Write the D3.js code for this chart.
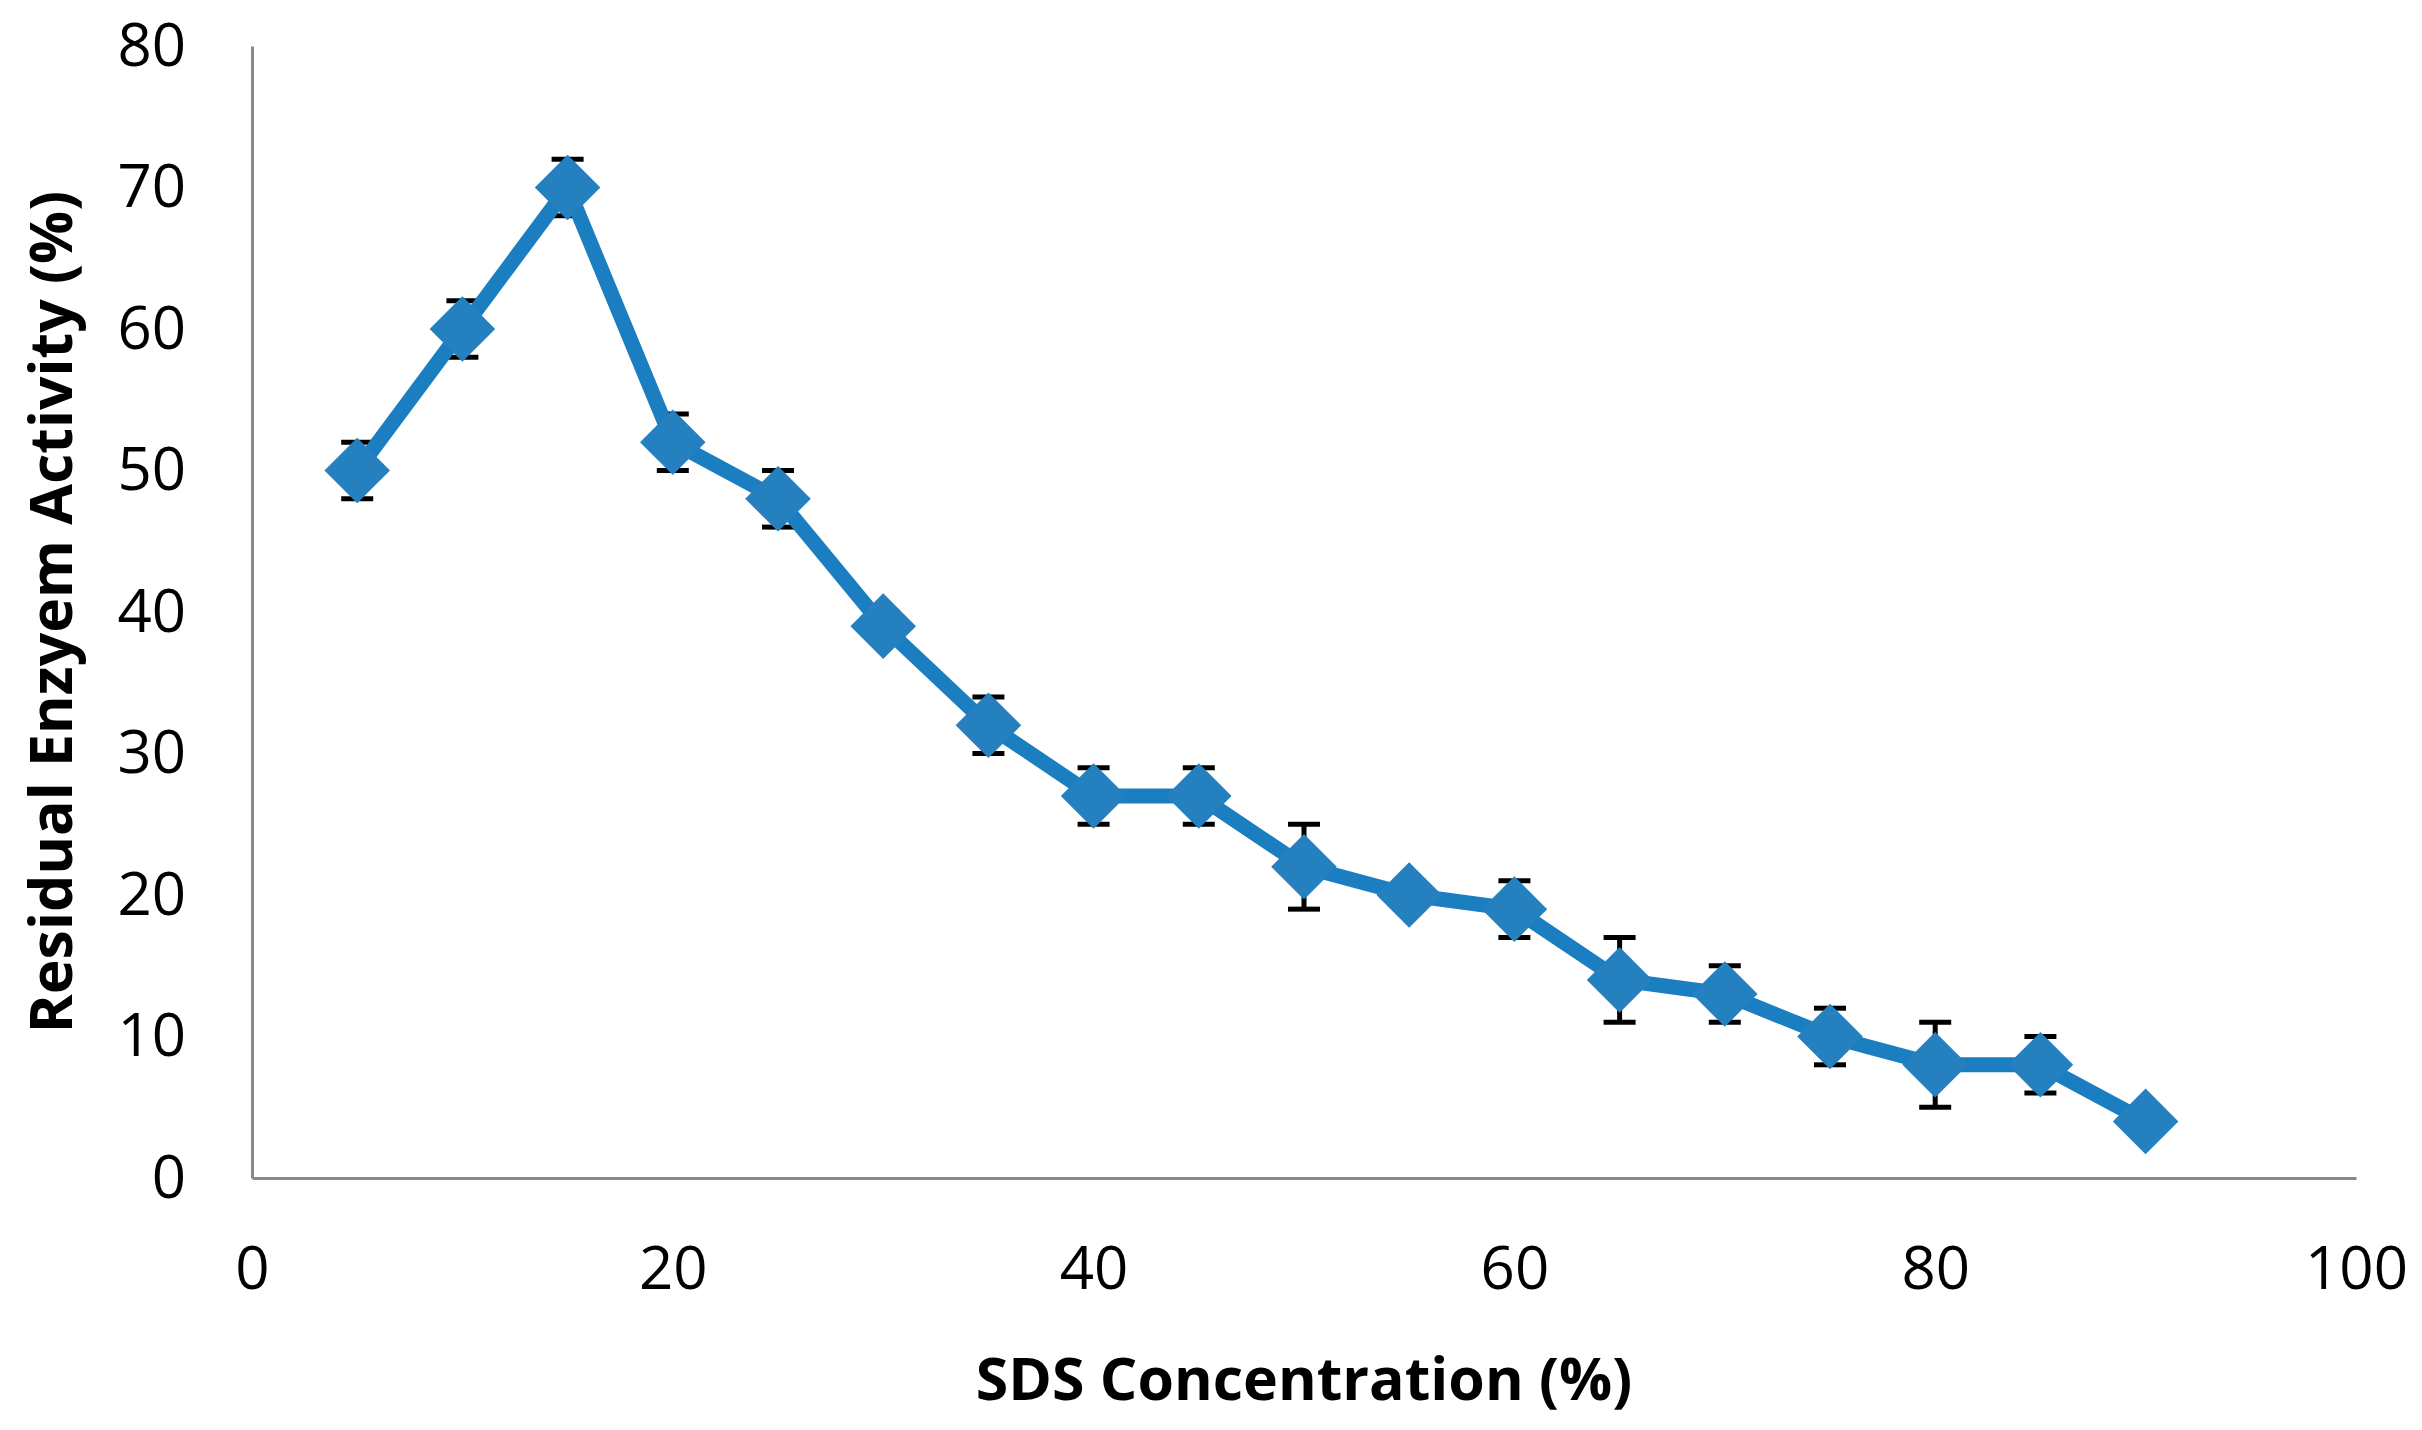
<!DOCTYPE html>
<html>
<head>
<meta charset="utf-8">
<script src="https://cdn.jsdelivr.net/npm/d3@7"></script>
<style>
  html, body { margin: 0; padding: 0; background: #fff; }
  #chart { width: 2422px; height: 1430px; }
  .tick text { font-family: "Open Sans", sans-serif; fill: #000; }
</style>
</head>
<body>
<div id="chart"></div>
<script>
// data
var concentration = [5, 10, 15, 20, 25, 30, 35, 40, 45, 50, 55, 60, 65, 70, 75, 80, 85, 90];
var activity      = [50, 60, 70, 52, 48, 39, 32, 27, 27, 22, 20, 19, 14, 13, 10, 8, 8, 4];
var errors        = [2, 2, 2, 2, 2, 1, 2, 2, 2, 3, 1, 2, 3, 2, 2, 3, 2, 1];
var xTicks = [0, 20, 40, 60, 80, 100];
var yTicks = [0, 10, 20, 30, 40, 50, 60, 70, 80];

// Set the dimensions and margins of graph
var margin = {left:252, right:66, top:46, bottom:252},
    width = 2422 - margin.left - margin.right,
    height = 1430 - margin.top - margin.bottom;

var x = d3.scaleLinear().domain([0,100]).range([0,width]);
var y = d3.scaleLinear().domain([0,80]).range([height,0]);

var data = concentration.map(function(c,i){
    return {x:c, y:activity[i], err:errors[i]};
});

var svg = d3.select("#chart").append("svg")
    .attr("width",2422)
    .attr("height",1430);

var chartGroup = svg.append("g")
    .attr("transform","translate("+margin.left+","+margin.top+")");

// axes, no tick marks, grey domain line
var xAxis = chartGroup.append("g")
    .attr("transform","translate(0,"+height+")")
    .call(d3.axisBottom(x).tickValues(xTicks).tickSize(0).tickPadding(68));
var yAxis = chartGroup.append("g")
    .call(d3.axisLeft(y).tickValues(yTicks).tickSize(0).tickPadding(66));

[xAxis, yAxis].forEach(function(a){
    a.select(".domain").attr("stroke","#898989").attr("stroke-width",3);
    a.selectAll(".tick text").attr("font-size",60);
});

// error bars
var capW = 16;
var bars = chartGroup.append("g").attr("stroke","#000").attr("stroke-width",5);
data.forEach(function(d){
    var cx = x(d.x);
    bars.append("line")
        .attr("x1",cx).attr("x2",cx)
        .attr("y1",y(d.y+d.err)).attr("y2",y(d.y-d.err));
    bars.append("line")
        .attr("x1",cx-capW).attr("x2",cx+capW)
        .attr("y1",y(d.y+d.err)).attr("y2",y(d.y+d.err));
    bars.append("line")
        .attr("x1",cx-capW).attr("x2",cx+capW)
        .attr("y1",y(d.y-d.err)).attr("y2",y(d.y-d.err));
});

// the line
var valueLine = d3.line()
    .x(function(d){ return x(d.x); })
    .y(function(d){ return y(d.y); });

chartGroup.append("path")
    .datum(data)
    .attr("fill","none")
    .attr("stroke","#1a7ec1")
    .attr("stroke-width",15)
    .attr("stroke-linejoin","round")
    .attr("d",valueLine);

// diamond markers (rotated squares)
var diamond = d3.symbol().type(d3.symbolSquare).size(2150);
chartGroup.selectAll(".marker")
    .data(data)
    .enter().append("path")
    .attr("class","marker")
    .attr("fill","#2580bf")
    .attr("d",diamond)
    .attr("transform",function(d){
        return "translate("+x(d.x)+","+y(d.y)+") rotate(45)";
    });

// axis titles
svg.append("text")
    .attr("x",margin.left+width/2)
    .attr("y",1400)
    .attr("text-anchor","middle")
    .attr("font-family","'Open Sans', sans-serif")
    .attr("font-weight","bold")
    .attr("font-size",59)
    .text("SDS Concentration (%)");

svg.append("text")
    .attr("transform","translate(72,"+(margin.top+height/2)+") rotate(-90)")
    .attr("text-anchor","middle")
    .attr("font-family","'Open Sans', sans-serif")
    .attr("font-weight","bold")
    .attr("font-size",59)
    .text("Residual Enzyem Activity (%)");
</script>
</body>
</html>
